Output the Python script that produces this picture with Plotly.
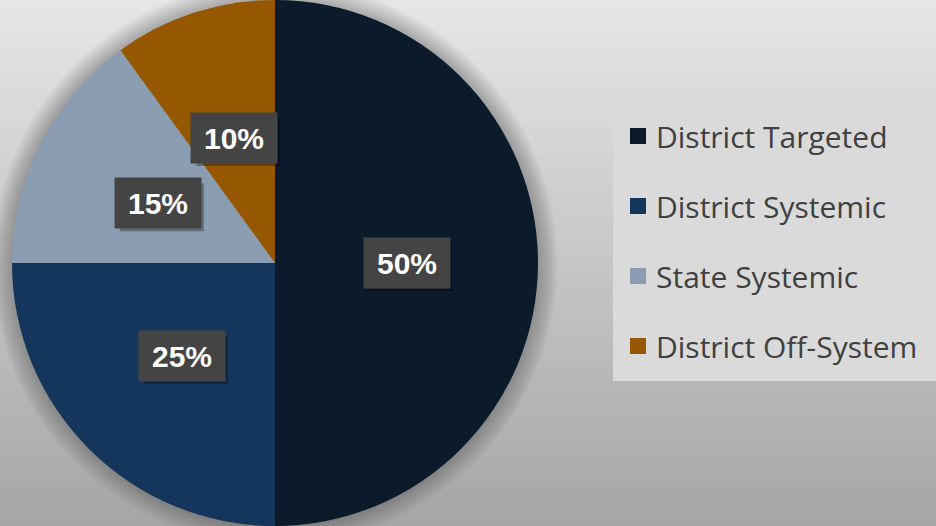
import math
import plotly.graph_objects as go

# ---- data ----
categories = ["District Targeted", "District Systemic", "State Systemic", "District Off-System"]
values = [50, 25, 15, 10]
colors = ["#0B1B2C", "#14365C", "#8B9DB1", "#955800"]

W, H = 936, 526
cx_px, cy_px, r_px = 275, 263, 263

fig = go.Figure()
fig.add_trace(go.Pie(
    labels=categories, values=values, sort=False, direction="clockwise", rotation=0,
    marker=dict(colors=colors, line=dict(width=0)),
    textinfo="none", hoverinfo="label+percent", showlegend=False,
    domain=dict(x=[(cx_px - r_px) / W, (cx_px + r_px) / W], y=[0, 1]),
))

shapes = []
# background vertical gradient
n = 60
top = (230, 230, 230)
bot = (166, 166, 166)
for i in range(n):
    t = i / (n - 1)
    c = tuple(int(round(top[k] + (bot[k] - top[k]) * t)) for k in range(3))
    shapes.append(dict(type="rect", xref="paper", yref="paper", layer="below",
                       x0=0, x1=1, y0=1 - (i + 1) / n - 0.002, y1=1 - i / n,
                       fillcolor="rgb(%d,%d,%d)" % c, line=dict(width=0)))
# soft shadow around pie
for k in range(20, 0, -1):
    rr = r_px + k
    shapes.append(dict(type="circle", xref="paper", yref="paper", layer="below",
                       x0=(cx_px - rr) / W, x1=(cx_px + rr) / W,
                       y0=1 - (cy_px + rr) / H, y1=1 - (cy_px - rr) / H,
                       fillcolor="rgba(0,0,0,0.01)", line=dict(width=0)))
# legend box
shapes.append(dict(type="rect", xref="paper", yref="paper", layer="below",
                   x0=613 / W, x1=1, y0=1 - 381 / H, y1=1 - 102 / H,
                   fillcolor="#DADADA", line=dict(width=0)))

annotations = []
# legend entries (manual)
item_y = [136, 206, 276, 346]
for cat, col, yp in zip(categories, colors, item_y):
    shapes.append(dict(type="rect", xref="paper", yref="paper", layer="above",
                       x0=630 / W, x1=646 / W, y0=1 - (yp + 8) / H, y1=1 - (yp - 8) / H,
                       fillcolor=col, line=dict(width=0)))
    annotations.append(dict(x=654 / W, y=1 - yp / H, xref="paper", yref="paper",
                            xanchor="left", yanchor="middle", showarrow=False,
                            text=cat, font=dict(family="Open Sans", size=30, color="#404040")))

# data labels in boxes, placed at half radius on each slice's mid angle
total = sum(values)
cum = 0
for v in values:
    mid = (cum + v / 2) / total * 2 * math.pi
    cum += v
    px = cx_px + 0.5 * r_px * math.sin(mid)
    py = cy_px - 0.5 * r_px * math.cos(mid)
    label = "%d%%" % round(v / total * 100)
    shapes.append(dict(type="rect", xref="paper", yref="paper", layer="above",
                       x0=(px - 42 + 4) / W, x1=(px + 42 + 4) / W,
                       y0=1 - (py + 24 + 4) / H, y1=1 - (py - 24 + 4) / H,
                       fillcolor="rgba(0,0,0,0.3)", line=dict(width=0)))
    annotations.append(dict(x=px / W, y=1 - py / H, xref="paper", yref="paper",
                            xanchor="center", yanchor="middle",
                            showarrow=False, text="<b>%s</b>" % label,
                            width=84, height=48, bgcolor="#444444",
                            font=dict(family="Liberation Sans", size=30, color="white")))

fig.update_layout(width=W, height=H, margin=dict(l=0, r=0, t=0, b=0),
                  paper_bgcolor="#C8C8C8", plot_bgcolor="rgba(0,0,0,0)",
                  shapes=shapes, annotations=annotations, showlegend=False)

fig.write_html("out.html")
